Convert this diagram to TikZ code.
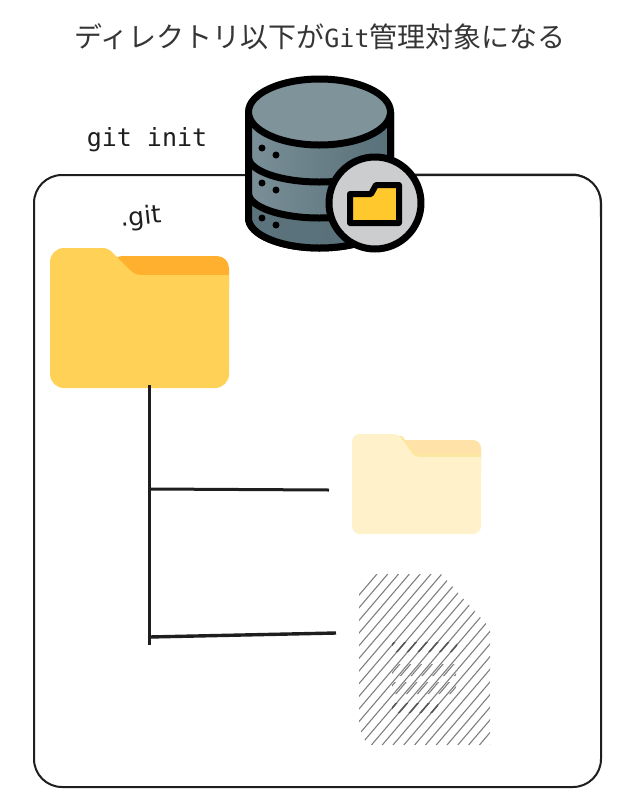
\documentclass[tikz,border=0pt]{standalone}
\usepackage{fontspec}
\setmainfont{Liberation Sans}
\setmonofont{DejaVu Sans Mono}
\newfontfamily\cjkfont{Noto Sans CJK JP}
\newfontfamily\handfont{DejaVu Sans}
\definecolor{inkline}{HTML}{1E1E1E}
\definecolor{foldermain}{HTML}{FFD257}
\definecolor{folderback}{HTML}{FFB02E}
\definecolor{subfoldermain}{HTML}{FFF1C9}
\definecolor{subfolderback}{HTML}{FFE2A8}
\definecolor{subfolderedge}{HTML}{FBE7A0}
\definecolor{hatchgray}{HTML}{808080}
\definecolor{dbtop}{HTML}{7F939B}
\definecolor{dblight}{HTML}{7A8F98}
\definecolor{dbdark}{HTML}{587079}
\definecolor{badgegray}{HTML}{CBCDCE}
\definecolor{badgefolder}{HTML}{FFC82C}
\tikzset{
  sketchline/.style={draw=inkline,line width=2pt},
  treeline/.style={draw=inkline,line width=3pt},
  dbline/.style={draw=black,line width=7pt,line join=round},
  hatchline/.style={draw=hatchgray,line width=1.1pt},
  dbdot/.style={fill=black,circle,inner sep=0pt,minimum size=7pt},
}
\begin{document}
\begin{tikzpicture}[x=1pt,y=-1pt]
\useasboundingbox[fill=white] (0,0) rectangle (641,807);
\node[text=inkline!90] (title) at (320,37) {\fontsize{28}{32}\selectfont\cjkfont ディレクトリ以下が{\ttfamily\fontsize{25}{32}\selectfont Git}管理対象になる};
\node[text=inkline] (initlabel) at (147,140) {\fontsize{25}{30}\selectfont\ttfamily git init};
\node[text=inkline,rotate=6] (gitlabel) at (141,218) {\fontsize{25}{30}\selectfont\handfont .git};

\draw[sketchline,rounded corners=28pt] (34,175) rectangle (601,787);
\draw[draw=inkline,line width=1pt,rounded corners=28pt] (400,174) -- (600,174) -- (601,260);

% folders
\fill[folderback,rounded corners=12pt] (110,256) -- (229,256) -- (229,300) -- (110,300) -- cycle;
\fill[foldermain,rounded corners=14pt] (50,248) [rounded corners=5pt] -- (108,248) -- (135,275) [sharp corners] -- (229,275) [rounded corners=14pt] -- (229,388) -- (50,388) -- cycle;
\fill[subfolderback,rounded corners=8pt] (398,440) -- (481,440) -- (481,480) -- (398,480) -- cycle;
\fill[subfolderedge] (398,436) -- (415,457) -- (481,457) -- (481,454) -- (417,454) -- (402,436) -- cycle;
\fill[subfoldermain,rounded corners=10pt] (352,434) [rounded corners=4pt] -- (398,434) -- (415,457) [sharp corners] -- (481,457) [rounded corners=8pt] -- (481,534) -- (352,534) -- cycle;

% tree
\coordinate (treetop) at (149,385);
\coordinate (treeend) at (149,645);
\coordinate (subfolderjoin) at (151,489);
\coordinate (subfolderend) at (329,490);
\coordinate (filejoin) at (149,637);
\coordinate (fileend) at (336,633);
\draw[treeline] (treetop) -- (treeend);
\draw[treeline] (subfolderjoin) -- (subfolderend);
\draw[treeline,line width=3.4pt] (filejoin) -- (fileend);

% hatched file
\begin{scope}
\clip (359,574) -- (441,574) -- (490,628) -- (490,745) -- (367,745) -- (359,727) -- cycle;
\foreach \k in {0,...,24}\draw[hatchline] ({231+10.8*\k},745) -- ({377+10.8*\k},574);
\end{scope}
\begin{scope}
\clip (392,642) rectangle (457,652) (392,703) rectangle (438,713);
\foreach \k in {0,...,24}\draw[hatchline,draw=inkline!75,line width=1.6pt] ({231+10.8*\k},745) -- ({377+10.8*\k},574);
\end{scope}
\begin{scope}
\clip (392,664) rectangle (456,676) (392,682) rectangle (456,694);
\foreach \k in {0,...,24}\draw[hatchline,shift={(2.5,0)}] ({231+10.8*\k},745) -- ({377+10.8*\k},574);
\end{scope}

% database
\draw[dbline,fill=dbdark] (248.5,112) -- (248.5,218) arc[start angle=180,end angle=360,x radius=71,y radius=-30] -- (390.5,112);
\fill[left color=dblight,right color=dbdark] (248.5,112) -- (248.5,157) arc[start angle=180,end angle=360,x radius=71,y radius=-25] -- (390.5,112) -- cycle;
\fill[left color=dblight,right color=dbdark] (248.5,157) arc[start angle=180,end angle=360,x radius=71,y radius=-25] -- (390.5,193) arc[start angle=360,end angle=180,x radius=71,y radius=-25] -- cycle;
\fill[left color=dbdark!90!dblight,right color=dbdark] (248.5,193) arc[start angle=180,end angle=360,x radius=71,y radius=-25] -- (390.5,218) arc[start angle=360,end angle=180,x radius=71,y radius=-30] -- cycle;
\draw[dbline] (248.5,112) -- (248.5,218) arc[start angle=180,end angle=360,x radius=71,y radius=-30] -- (390.5,112);
\draw[dbline] (248.5,157) arc[start angle=180,end angle=360,x radius=71,y radius=-25];
\draw[dbline] (248.5,193) arc[start angle=180,end angle=360,x radius=71,y radius=-25];
\draw[dbline,fill=dbtop] (319.5,112) ellipse[x radius=71,y radius=33];
\foreach \y/\n in {148/a,183/b,218/c}{
  \node[dbdot] (dot\n l) at (262,\y) {};
  \node[dbdot] (dot\n r) at (276,\y+7) {};
}
\draw[dbline,fill=badgegray] (375,203) circle (46);
\draw[dbline,line width=6pt,fill=badgefolder] (350,194) -- (371,194) -- (376,185) -- (399,185) -- (399,223) -- (350,223) -- cycle;
\end{tikzpicture}
\end{document}
